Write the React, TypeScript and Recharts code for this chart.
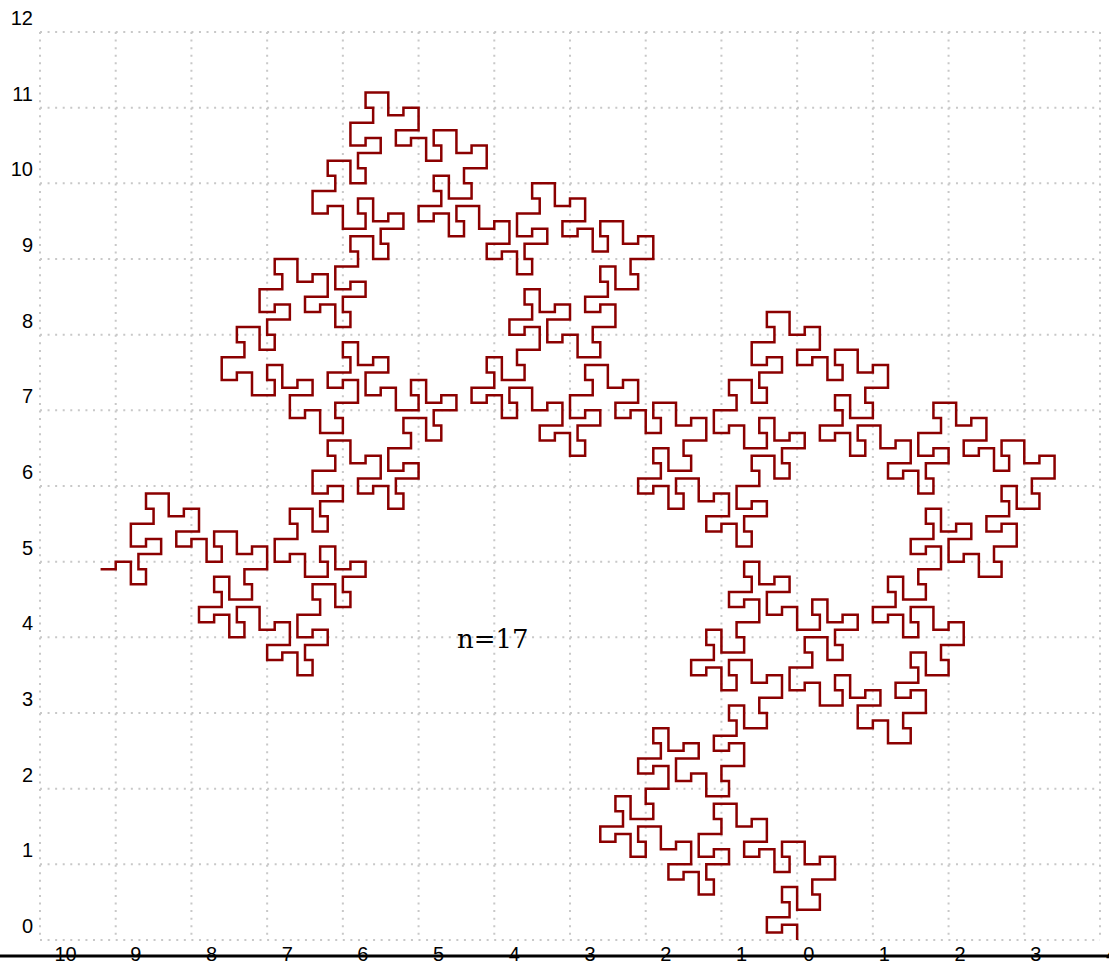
import React from 'react';
import { LineChart, Line, XAxis, YAxis, CartesianGrid, ReferenceLine, ReferenceDot } from 'recharts';

const xTicks = [-10, -9, -8, -7, -6, -5, -4, -3, -2, -1, 0, 1, 2, 3, 4];
const yTicks = [0, 1, 2, 3, 4, 5, 6, 7, 8, 9, 10, 11, 12];

// in tenths of a grid unit, from the bottom end of the curve
const lowerArm: [number, number][] = [
  [0,0],[0,2],[-2,2],[-2,1],[-4,1],[-4,3],[-1,3],[-1,5],[-2,5],[-2,7],[0,7],[0,4],[3,4],[3,6],[2,6],[2,8],[5,8],[5,11],[3,11],[3,10],[1,10],[1,13],[-2,13],[-2,11],[-1,11],[-1,9],[-3,9],[-3,12],[-5,12],[-5,11],[-7,11],[-7,13],[-4,13],[-4,16],[-6,16],[-6,15],[-8,15],[-8,18],[-11,18],[-11,16],[-10,16],[-10,14],[-13,14],[-13,11],[-11,11],[-11,12],[-9,12],[-9,10],[-12,10],[-12,8],[-11,8],[-11,6],[-13,6],[-13,9],[-15,9],[-15,8],[-17,8],[-17,10],[-14,10],[-14,13],[-16,13],[-16,12],[-18,12],[-18,15],[-21,15],[-21,13],[-20,13],[-20,11],[-22,11],[-22,14],[-24,14],[-24,13],[-26,13],[-26,15],[-23,15],[-23,17],[-24,17],[-24,19],[-22,19],[-22,16],[-19,16],[-19,18],[-20,18],[-20,20],[-17,20],[-17,23],[-19,23],[-19,22],[-21,22],[-21,24],[-18,24],[-18,26],[-19,26],[-19,28],[-17,28],[-17,25],[-15,25],[-15,26],[-13,26],[-13,24],[-16,24],[-16,21],[-14,21],[-14,22],[-12,22],[-12,19],[-9,19],[-9,21],[-10,21],[-10,23],[-7,23],[-7,26],[-9,26],[-9,25],[-11,25],[-11,27],[-8,27],[-8,29],[-9,29],[-9,31],[-7,31],[-7,28],[-4,28],[-4,30],[-5,30],
];

const middleLobe: [number, number][] = [
  [-5,32],[-2,32],[-2,35],[-4,35],[-4,34],[-6,34],[-6,37],[-9,37],[-9,35],[-8,35],[-8,33],[-10,33],[-10,36],[-12,36],[-12,35],[-14,35],[-14,37],[-11,37],[-11,39],[-12,39],[-12,41],[-10,41],[-10,38],[-7,38],[-7,40],[-8,40],[-8,42],[-5,42],[-5,45],[-7,45],[-7,44],[-9,44],[-9,46],[-6,46],[-6,48],[-7,48],[-7,50],[-5,50],[-5,47],[-3,47],[-3,48],[-1,48],[-1,46],[-4,46],[-4,43],[-2,43],[-2,44],[0,44],[0,41],[3,41],[3,43],[2,43],[2,45],[4,45],[4,42],[6,42],[6,43],[8,43],[8,41],[5,41],[5,39],[6,39],[6,37],[4,37],[4,40],[1,40],[1,38],[2,38],[2,36],[-1,36],[-1,33],[1,33],[1,34],[3,34],[3,31],[6,31],[6,33],[5,33],[5,35],[7,35],[7,32],[9,32],[9,33],[11,33],[11,31],[8,31],[8,28],[10,28],[10,29],[12,29],[12,26],[15,26],[15,28],[14,28],[14,30],[17,30],[17,33],[15,33],[15,32],[13,32],[13,34],[16,34],[16,36],[15,36],[15,38],[17,38],[17,35],[20,35],[20,37],[19,37],[19,39],[22,39],[22,42],[20,42],[20,41],[18,41],[18,44],[15,44],[15,42],[16,42],[16,40],[14,40],[14,43],[12,43],[12,42],[10,42],[10,44],[13,44],[13,46],[12,46],[12,48],[14,48],[14,45],[17,45],[17,47],[16,47],[16,49],[19,49],
];

const rightLobe: [number, number][] = [
  [19,52],[17,52],[17,51],[15,51],[15,53],[18,53],[18,55],[17,55],[17,57],[19,57],[19,54],[21,54],[21,55],[23,55],[23,53],[20,53],[20,50],[22,50],[22,51],[24,51],[24,48],[27,48],[27,50],[26,50],[26,52],[29,52],[29,55],[27,55],[27,54],[25,54],[25,56],[28,56],[28,58],[27,58],[27,60],[29,60],[29,57],[32,57],[32,59],[31,59],[31,61],[34,61],[34,64],[32,64],[32,63],[30,63],[30,66],[27,66],[27,64],[28,64],[28,62],[26,62],[26,65],[24,65],[24,64],[22,64],[22,66],[25,66],[25,69],[23,69],[23,68],[21,68],[21,71],[18,71],[18,69],[19,69],[19,67],[16,67],[16,64],[18,64],[18,65],[20,65],[20,63],[17,63],[17,61],[18,61],[18,59],[16,59],[16,62],[14,62],[14,61],[12,61],[12,63],[15,63],[15,66],[13,66],[13,65],[11,65],[11,68],[8,68],[8,66],[9,66],[9,64],[7,64],[7,67],[5,67],[5,66],[3,66],[3,68],[6,68],[6,70],[5,70],[5,72],[7,72],[7,69],[10,69],[10,71],[9,71],
];

const centreLobe: [number, number][] = [
  [9,73],[12,73],[12,76],[10,76],[10,75],[8,75],[8,78],[5,78],[5,76],[6,76],[6,74],[4,74],[4,77],[2,77],[2,76],[0,76],[0,78],[3,78],[3,81],[1,81],[1,80],[-1,80],[-1,83],[-4,83],[-4,81],[-3,81],[-3,79],[-6,79],[-6,76],[-4,76],[-4,77],[-2,77],[-2,75],[-5,75],[-5,73],[-4,73],[-4,71],[-6,71],[-6,74],[-9,74],[-9,72],[-8,72],[-8,70],[-11,70],[-11,67],[-9,67],[-9,68],[-7,68],[-7,65],[-4,65],[-4,67],[-5,67],[-5,69],[-3,69],[-3,66],[-1,66],[-1,67],[1,67],[1,65],[-2,65],[-2,63],[-1,63],[-1,61],[-3,61],[-3,64],[-6,64],[-6,62],[-5,62],[-5,60],[-8,60],[-8,57],[-6,57],[-6,58],[-4,58],[-4,56],[-7,56],[-7,54],[-6,54],[-6,52],[-8,52],[-8,55],[-10,55],[-10,54],[-12,54],[-12,56],[-9,56],[-9,59],[-11,59],[-11,58],[-13,58],[-13,61],[-16,61],[-16,59],[-15,59],[-15,57],[-17,57],[-17,60],[-19,60],[-19,59],[-21,59],[-21,61],[-18,61],[-18,63],[-19,63],[-19,65],[-17,65],[-17,62],[-14,62],[-14,64],[-15,64],[-15,66],[-12,66],[-12,69],[-14,69],[-14,68],[-16,68],[-16,71],[-19,71],[-19,69],[-18,69],[-18,67],[-20,67],[-20,70],[-22,70],[-22,69],[-24,69],[-24,71],[-21,71],[-21,74],[-23,74],[-23,73],
];

const upperMiddle: [number, number][] = [
  [-25,73],[-25,76],[-28,76],[-28,74],[-27,74],[-27,72],[-30,72],[-30,69],[-28,69],[-28,70],[-26,70],[-26,68],[-29,68],[-29,66],[-28,66],[-28,64],[-30,64],[-30,67],[-32,67],[-32,66],[-34,66],[-34,68],[-31,68],[-31,71],[-33,71],[-33,70],[-35,70],[-35,73],[-38,73],[-38,71],[-37,71],[-37,69],[-39,69],[-39,72],[-41,72],[-41,71],[-43,71],[-43,73],[-40,73],[-40,75],[-41,75],[-41,77],[-39,77],[-39,74],[-36,74],[-36,76],[-37,76],[-37,78],[-34,78],[-34,81],[-36,81],[-36,80],[-38,80],[-38,82],[-35,82],[-35,84],[-36,84],[-36,86],[-34,86],[-34,83],[-32,83],[-32,84],[-30,84],[-30,82],[-33,82],[-33,79],[-31,79],[-31,80],[-29,80],[-29,77],[-26,77],[-26,79],[-27,79],[-27,81],[-24,81],[-24,84],[-26,84],[-26,83],[-28,83],[-28,85],[-25,85],[-25,87],[-26,87],[-26,89],[-24,89],[-24,86],[-21,86],[-21,88],[-22,88],[-22,90],[-19,90],[-19,93],[-21,93],[-21,92],[-23,92],[-23,95],[-26,95],[-26,93],[-25,93],[-25,91],[-27,91],[-27,94],[-29,94],[-29,93],[-31,93],[-31,95],[-28,95],[-28,98],[-30,98],[-30,97],[-32,97],[-32,100],[-35,100],[-35,98],[-34,98],[-34,96],[-37,96],[-37,93],[-35,93],[-35,94],[-33,94],[-33,92],[-36,92],[-36,90],[-35,90],[-35,88],[-37,88],[-37,91],[-39,91],[-39,90],[-41,90],[-41,92],[-38,92],[-38,95],[-40,95],[-40,94],[-42,94],[-42,97],[-45,97],[-45,95],[-44,95],[-44,93],[-46,93],[-46,96],[-48,96],[-48,95],[-50,95],[-50,97],[-47,97],[-47,99],[-48,99],[-48,101],[-46,101],[-46,98],[-43,98],[-43,100],[-44,100],
];

const topLobe: [number, number][] = [
  [-44,102],[-41,102],[-41,105],[-43,105],[-43,104],[-45,104],[-45,107],[-48,107],[-48,105],[-47,105],[-47,103],[-49,103],[-49,106],[-51,106],[-51,105],[-53,105],[-53,107],[-50,107],[-50,110],[-52,110],[-52,109],[-54,109],[-54,112],[-57,112],[-57,110],[-56,110],[-56,108],[-59,108],[-59,105],[-57,105],[-57,106],[-55,106],[-55,104],[-58,104],[-58,102],[-57,102],[-57,100],[-59,100],[-59,103],[-62,103],[-62,101],[-61,101],[-61,99],[-64,99],[-64,96],[-62,96],[-62,97],[-60,97],[-60,94],[-57,94],[-57,96],[-58,96],[-58,98],[-56,98],[-56,95],[-54,95],[-54,96],[-52,96],[-52,94],[-55,94],[-55,92],[-54,92],[-54,90],[-56,90],[-56,93],[-59,93],[-59,91],[-58,91],
];

const upperLeft: [number, number][] = [
  [-58,89],[-61,89],[-61,86],[-59,86],[-59,87],[-57,87],[-57,85],[-60,85],[-60,83],[-59,83],[-59,81],[-61,81],[-61,84],[-63,84],[-63,83],[-65,83],[-65,85],[-62,85],[-62,88],[-64,88],[-64,87],[-66,87],[-66,90],[-69,90],[-69,88],[-68,88],[-68,86],[-71,86],[-71,83],[-69,83],[-69,84],[-67,84],[-67,82],[-70,82],[-70,80],[-69,80],[-69,78],[-71,78],[-71,81],[-74,81],[-74,79],[-73,79],[-73,77],[-76,77],[-76,74],[-74,74],[-74,75],[-72,75],[-72,72],[-69,72],[-69,74],[-70,74],[-70,76],[-68,76],[-68,73],[-66,73],[-66,74],[-64,74],[-64,72],[-67,72],[-67,69],[-65,69],[-65,70],[-63,70],[-63,67],[-60,67],[-60,69],[-61,69],[-61,71],[-58,71],[-58,74],[-60,74],[-60,73],[-62,73],[-62,75],[-59,75],[-59,77],[-60,77],[-60,79],[-58,79],[-58,76],[-56,76],[-56,77],[-54,77],[-54,75],[-57,75],[-57,72],[-55,72],[-55,73],[-53,73],[-53,70],[-50,70],[-50,72],[-51,72],[-51,74],[-49,74],[-49,71],[-47,71],[-47,72],[-45,72],[-45,70],[-48,70],[-48,68],[-47,68],[-47,66],[-49,66],[-49,69],[-52,69],[-52,67],[-51,67],[-51,65],[-54,65],[-54,62],[-52,62],[-52,63],[-50,63],[-50,61],[-53,61],[-53,59],[-52,59],[-52,57],[-54,57],[-54,60],[-56,60],[-56,59],[-58,59],[-58,61],[-55,61],[-55,64],[-57,64],[-57,63],[-59,63],[-59,66],[-62,66],[-62,64],[-61,64],[-61,62],[-64,62],[-64,59],[-62,59],[-62,60],[-60,60],[-60,58],[-63,58],
];

const leftArm: [number, number][] = [
  [-63,56],[-62,56],[-62,54],[-64,54],[-64,57],[-67,57],[-67,55],[-66,55],[-66,53],[-69,53],[-69,50],[-67,50],[-67,51],[-65,51],[-65,48],[-62,48],[-62,50],[-63,50],[-63,52],[-61,52],[-61,49],[-59,49],[-59,50],[-57,50],[-57,48],[-60,48],[-60,46],[-59,46],[-59,44],[-61,44],[-61,47],[-64,47],[-64,45],[-63,45],[-63,43],[-66,43],[-66,40],[-64,40],[-64,41],[-62,41],[-62,39],[-65,39],[-65,37],[-64,37],[-64,35],[-66,35],[-66,38],[-68,38],[-68,37],[-70,37],[-70,39],[-67,39],[-67,42],[-69,42],[-69,41],[-71,41],[-71,44],[-74,44],[-74,42],[-73,42],[-73,40],[-75,40],[-75,43],[-77,43],[-77,42],[-79,42],[-79,44],[-76,44],[-76,46],[-77,46],[-77,48],[-75,48],[-75,45],[-72,45],[-72,47],[-73,47],[-73,49],[-70,49],[-70,52],[-72,52],[-72,51],[-74,51],[-74,54],[-77,54],[-77,52],[-76,52],[-76,50],[-78,50],[-78,53],[-80,53],[-80,52],[-82,52],[-82,54],[-79,54],[-79,57],[-81,57],[-81,56],[-83,56],[-83,59],[-86,59],[-86,57],[-85,57],[-85,55],[-88,55],[-88,52],[-86,52],[-86,53],[-84,53],[-84,51],[-87,51],[-87,49],[-86,49],[-86,47],[-88,47],[-88,50],[-90,50],[-90,49],[-92,49],
];

const curve = [...lowerArm, ...middleLobe, ...rightLobe, ...centreLobe, ...upperMiddle, ...topLobe, ...upperLeft, ...leftArm]
  .map(([x, y]) => ({ x: x / 10, y: y / 10 }));

const tickFont = '"Liberation Sans", Arial, sans-serif';

const XTick = ({ x, y, payload }: any) => (
  // negative labels sit further right and have lost their minus sign in the original
  <text x={x + (payload.value < 0 ? 14.5 : 6)} y={y + 21} fontFamily={tickFont} fontSize={20} fill="#000" textAnchor="start">
    {Math.abs(payload.value)}
  </text>
);

const YTick = ({ y, payload }: any) => (
  <text x={33} y={y - 7} fontFamily={tickFont} fontSize={20} fill="#000" textAnchor="end">
    {payload.value}
  </text>
);

export default function App() {
  return (
    <div style={{ position: 'absolute', left: 0, top: 0, width: 1109, height: 964, overflow: 'hidden', background: '#fff' }}>
      <LineChart width={1109} height={964} data={curve} margin={{ top: 32, right: 9, bottom: 0, left: 0 }}>
        <CartesianGrid stroke="#c8c8c8" strokeWidth={2} strokeDasharray="2 5.57" />
        <XAxis
          dataKey="x"
          type="number"
          domain={[-10, 4]}
          ticks={xTicks}
          interval={0}
          height={24}
          axisLine={false}
          tickLine={false}
          tickSize={0}
          tickMargin={0}
          tick={<XTick />}
        />
        <YAxis
          dataKey="y"
          type="number"
          domain={[0, 12]}
          ticks={yTicks}
          interval={0}
          width={40}
          axisLine={false}
          tickLine={false}
          tickSize={0}
          tickMargin={0}
          tick={<YTick />}
        />
        <ReferenceLine
          segment={[{ x: -10.53, y: -0.21 }, { x: 4.12, y: -0.21 }]}
          ifOverflow="visible"
          stroke="#000"
          strokeWidth={3}
        />
        <ReferenceDot
          x={-4.02}
          y={3.98}
          r={0}
          stroke="none"
          label={{ value: 'n=17', position: 'center', fontFamily: '"DejaVu Serif", serif', fontSize: 26, fill: '#000' }}
        />
        <Line
          type="linear"
          dataKey="y"
          dot={false}
          activeDot={false}
          stroke="#8b0000"
          strokeWidth={2.5}
          strokeLinejoin="miter"
          isAnimationActive={false}
        />
      </LineChart>
    </div>
  );
}
